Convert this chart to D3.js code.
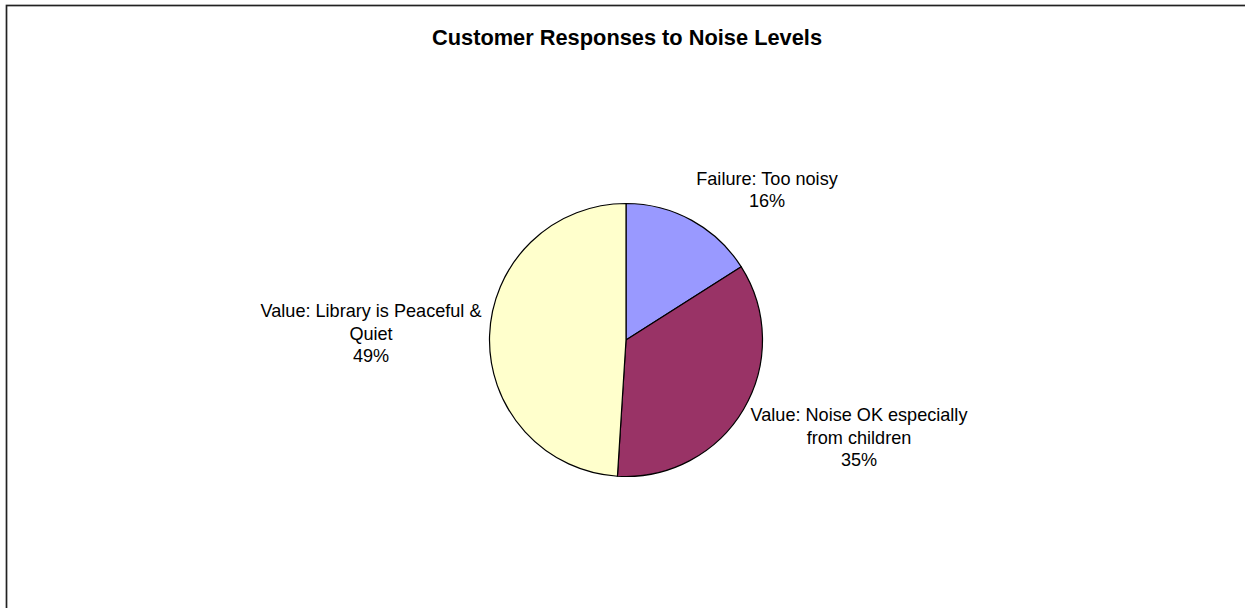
<!DOCTYPE html>
<html>
<head>
<meta charset="utf-8">
<script src="https://cdn.jsdelivr.net/npm/d3@7"></script>
<style>
  html, body { margin: 0; padding: 0; background: #fff; }
  svg { display: block; font-family: Arial, "Liberation Sans", sans-serif; }
</style>
</head>
<body>
<svg id="chart" width="1245" height="608"></svg>
<script>
// ---- data ----
const title = "Customer Responses to Noise Levels";
const categories = ["Failure: Too noisy", "Value: Noise OK especially from children", "Value: Library is Peaceful & Quiet"];
const values = [16, 35, 49];
const labelLines = [
  ["Failure: Too noisy"],
  ["Value: Noise OK especially", "from children"],
  ["Value: Library is Peaceful &", "Quiet"]
];
const colors = ["#9999FF", "#993366", "#FFFFCC"];

// ---- layout ----
const W = 1245, H = 608;
const cx = 626, cy = 340, R = 136.5;
const labelPos = [ {x: 767, y: 185}, {x: 859, y: 421}, {x: 371, y: 317} ];
const lineH = [21.5, 22.5, 22.5];

const svg = d3.select("#chart");

svg.append("rect")
  .attr("x", 6.5).attr("y", 5.5)
  .attr("width", W + 50).attr("height", H + 50)
  .attr("fill", "#fff").attr("stroke", "#222").attr("stroke-width", 1.7);

svg.append("text")
  .attr("x", 627).attr("y", 45)
  .attr("text-anchor", "middle")
  .attr("font-size", 21.8).attr("font-weight", "bold")
  .attr("fill", "#000")
  .text(title);

const pie = d3.pie().sort(null).value(d => d)(values);
const arc = d3.arc().innerRadius(0).outerRadius(R);

const g = svg.append("g").attr("transform", `translate(${cx},${cy})`);
g.selectAll("path").data(pie).enter().append("path")
  .attr("d", arc)
  .attr("fill", (d, i) => colors[i])
  .attr("stroke", "#000").attr("stroke-width", 1.2)
  .attr("stroke-linejoin", "round");

const total = d3.sum(values);
const labels = svg.selectAll("text.lbl").data(pie).enter().append("text")
  .attr("class", "lbl")
  .attr("text-anchor", "middle")
  .attr("font-size", 18.1)
  .attr("fill", "#000");

labels.each(function(d, i) {
  const t = d3.select(this);
  const lines = labelLines[i].concat([Math.round(d.value / total * 100) + "%"]);
  lines.forEach((ln, k) => {
    t.append("tspan")
      .attr("x", labelPos[i].x)
      .attr("y", labelPos[i].y + k * lineH[i])
      .text(ln);
  });
});
</script>
</body>
</html>
